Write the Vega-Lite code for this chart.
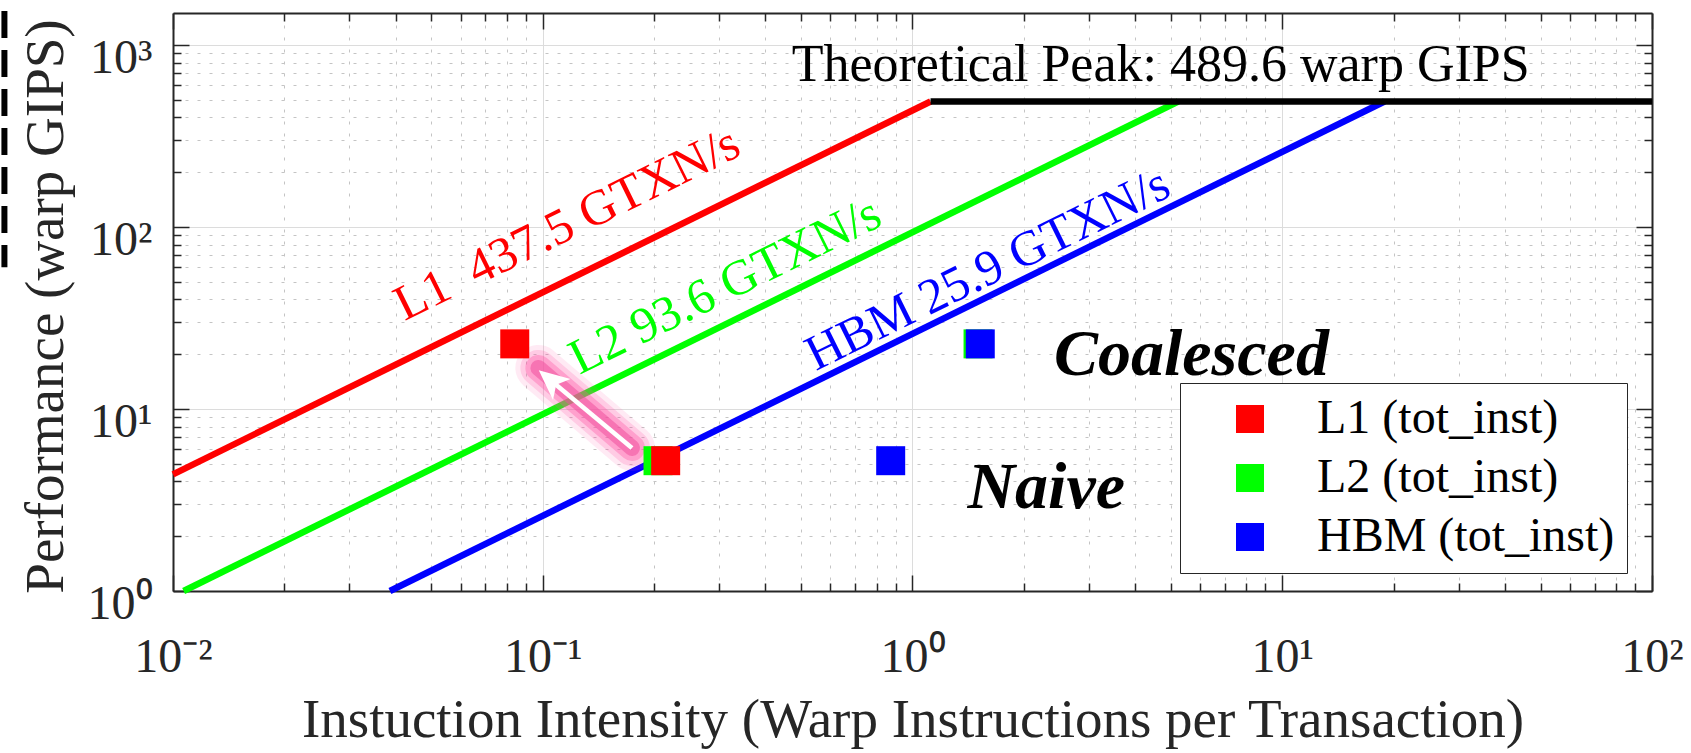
{
  "$schema": "https://vega.github.io/schema/vega-lite/v6.json",
  "width": 1479,
  "height": 578,
  "autosize": {"type": "none"},
  "padding": {"left": 173, "top": 13, "right": 39, "bottom": 162},
  "background": "#ffffff",
  "config": {
    "view": {"stroke": null},
    "font": "Liberation Serif",
    "axis": {
      "labelFont": "Liberation Serif",
      "titleFont": "Liberation Serif",
      "titleFontWeight": "normal",
      "labelColor": "#262626",
      "titleColor": "#262626",
      "tickColor": "#262626",
      "domainColor": "#262626",
      "labelFlush": false,
      "labelOverlap": false,
      "labelBound": false
    },
    "legend": {"labelFont": "Liberation Serif"}
  },
  "datasets": {
    "roofs": [
      {"roof": "L1", "x": 0.01, "y": 4.375},
      {"roof": "L1", "x": 1.1191, "y": 489.6},
      {"roof": "L2", "x": 0.010684, "y": 1},
      {"roof": "L2", "x": 5.2308, "y": 489.6},
      {"roof": "HBM", "x": 0.03861, "y": 1},
      {"roof": "HBM", "x": 18.903, "y": 489.6},
      {"roof": "Peak", "x": 1.1191, "y": 489.6},
      {"roof": "Peak", "x": 100, "y": 489.6}
    ],
    "roofLabels": [
      {"roof": "L1", "t": "L1\u00a0\u00a0437.5 GTXN/s", "x": 0.1165, "y": 103.5},
      {"roof": "L2", "t": "L2 93.6 GTXN/s", "x": 0.3117, "y": 47.3},
      {"roof": "HBM", "t": "HBM 25.9 GTXN/s", "x": 1.598, "y": 58.3}
    ],
    "pts": [
      {"series": "L2 (tot_inst)", "case": "Naive", "x": 0.205, "y": 5.2},
      {"series": "L2 (tot_inst)", "case": "Coalesced", "x": 1.504, "y": 22.8},
      {"series": "L1 (tot_inst)", "case": "Naive", "x": 0.215, "y": 5.2},
      {"series": "L1 (tot_inst)", "case": "Coalesced", "x": 0.084, "y": 22.8},
      {"series": "HBM (tot_inst)", "case": "Naive", "x": 0.873, "y": 5.2},
      {"series": "HBM (tot_inst)", "case": "Coalesced", "x": 1.525, "y": 22.8}
    ],
    "arrowGlow": [
      {"x": 0.1743, "y": 6.11},
      {"x": 0.0973, "y": 16.82}
    ],
    "arrowShaft": [
      {"x": 0.1743, "y": 6.11},
      {"x": 0.1064, "y": 14.09}
    ],
    "arrowHead": [
      {"x": 0.1064, "y": 14.09}
    ]
  },
  "layer": [
    {
      "data": {"values": [{"x": 0.0035, "y": 1539, "y2": 60.1}]},
      "mark": {"type": "rule", "color": "#000000", "strokeWidth": 6, "strokeDash": [27, 12]},
      "encoding": {
        "x": {"field": "x", "type": "quantitative", "scale": {"type": "log", "domain": [0.01, 100], "nice": false}, "axis": null},
        "y": {"field": "y", "type": "quantitative", "scale": {"type": "log", "domain": [1, 1500], "nice": false}, "axis": null},
        "y2": {"field": "y2"}
      }
    },
    {
      "data": {"name": "roofs"},
      "transform": [{"filter": "datum.roof === 'L1'"}],
      "mark": {"type": "line", "color": "#ff0000", "strokeWidth": 6.5},
      "encoding": {
        "x": {"field": "x", "type": "quantitative", "scale": {"type": "log", "domain": [0.01, 100], "nice": false},
          "axis": {"orient": "bottom", "values": [0.01, 0.1, 1, 10, 100],
            "labelExpr": "['10⁻²','10⁻¹','10⁰','10¹','10²'][round(log(datum.value)/LN10)+2]",
            "labelFontSize": 48, "labelBaseline": "alphabetic", "labelPadding": 96,
            "tickSize": -16, "tickWidth": 1.5, "domain": true, "domainWidth": 2,
            "grid": true, "gridColor": "#dcdcdc", "gridWidth": 1,
            "title": "Instuction Intensity (Warp Instructions per Transaction)",
            "titleFontSize": 55, "titleBaseline": "alphabetic", "titleY": 145}},
        "y": {"field": "y", "type": "quantitative", "scale": {"type": "log", "domain": [1, 1500], "nice": false},
          "axis": {"orient": "left", "values": [1, 10, 100, 1000],
            "labelExpr": "['10⁰','10¹','10²','10³'][round(log(datum.value)/LN10)]",
            "labelFontSize": 48, "labelBaseline": "alphabetic", "labelOffset": 27, "labelAlign": "right", "labelPadding": 37,
            "tickSize": -16, "tickWidth": 1.5, "domain": true, "domainWidth": 2,
            "grid": true, "gridColor": "#dcdcdc", "gridWidth": 1,
            "title": "Performance (warp GIPS)",
            "titleFontSize": 55, "titleBaseline": "alphabetic", "titleAngle": -90, "titleX": -111, "titleY": 293}}
      }
    },
    {
      "data": {"name": "roofs"},
      "transform": [{"filter": "datum.roof === 'L2'"}],
      "mark": {"type": "line", "color": "#00ff00", "strokeWidth": 6.5},
      "encoding": {
        "x": {"field": "x", "type": "quantitative", "scale": {"type": "log", "domain": [0.01, 100], "nice": false},
          "axis": {"orient": "bottom", "values": [0.02,0.03,0.04,0.05,0.06,0.07,0.08,0.09,0.2,0.3,0.4,0.5,0.6,0.7,0.8,0.9,2,3,4,5,6,7,8,9,20,30,40,50,60,70,80,90],
            "labels": false, "tickSize": -8, "tickWidth": 1.5, "domain": false,
            "grid": true, "gridColor": "#c4c4c4", "gridDash": [3, 9], "gridWidth": 1, "title": null}},
        "y": {"field": "y", "type": "quantitative", "scale": {"type": "log", "domain": [1, 1500], "nice": false},
          "axis": {"orient": "left", "values": [2,3,4,5,6,7,8,9,20,30,40,50,60,70,80,90,200,300,400,500,600,700,800,900],
            "labels": false, "tickSize": -8, "tickWidth": 1.5, "domain": false,
            "grid": true, "gridColor": "#c4c4c4", "gridDash": [3, 9], "gridWidth": 1, "title": null}}
      }
    },
    {
      "data": {"name": "roofs"},
      "transform": [{"filter": "datum.roof === 'HBM'"}],
      "mark": {"type": "line", "color": "#0000ff", "strokeWidth": 6.5},
      "encoding": {
        "x": {"field": "x", "type": "quantitative", "scale": {"type": "log", "domain": [0.01, 100], "nice": false},
          "axis": {"orient": "top", "values": [0.01, 0.1, 1, 10, 100], "labels": false,
            "tickSize": -16, "tickWidth": 1.5, "domain": true, "domainWidth": 2, "grid": false, "title": null}},
        "y": {"field": "y", "type": "quantitative", "scale": {"type": "log", "domain": [1, 1500], "nice": false},
          "axis": {"orient": "right", "values": [1, 10, 100, 1000], "labels": false,
            "tickSize": -16, "tickWidth": 1.5, "domain": true, "domainWidth": 2, "grid": false, "title": null}}
      }
    },
    {
      "data": {"name": "roofs"},
      "transform": [{"filter": "datum.roof === 'Peak'"}],
      "mark": {"type": "line", "color": "#000000", "strokeWidth": 6.5},
      "encoding": {
        "x": {"field": "x", "type": "quantitative", "scale": {"type": "log", "domain": [0.01, 100], "nice": false},
          "axis": {"orient": "top", "values": [0.02,0.03,0.04,0.05,0.06,0.07,0.08,0.09,0.2,0.3,0.4,0.5,0.6,0.7,0.8,0.9,2,3,4,5,6,7,8,9,20,30,40,50,60,70,80,90],
            "labels": false, "tickSize": -8, "tickWidth": 1.5, "domain": false, "grid": false, "title": null}},
        "y": {"field": "y", "type": "quantitative", "scale": {"type": "log", "domain": [1, 1500], "nice": false},
          "axis": {"orient": "right", "values": [2,3,4,5,6,7,8,9,20,30,40,50,60,70,80,90,200,300,400,500,600,700,800,900],
            "labels": false, "tickSize": -8, "tickWidth": 1.5, "domain": false, "grid": false, "title": null}}
      }
    },
    {
      "data": {"name": "roofLabels"},
      "transform": [{"filter": "datum.roof === 'L1'"}],
      "mark": {"type": "text", "angle": 333.73, "fontSize": 50, "color": "#ff0000", "align": "center", "baseline": "middle"},
      "encoding": {
        "x": {"field": "x", "type": "quantitative", "scale": {"type": "log", "domain": [0.01, 100], "nice": false}, "axis": null},
        "y": {"field": "y", "type": "quantitative", "scale": {"type": "log", "domain": [1, 1500], "nice": false}, "axis": null},
        "text": {"field": "t"}
      }
    },
    {
      "data": {"name": "roofLabels"},
      "transform": [{"filter": "datum.roof === 'L2'"}],
      "mark": {"type": "text", "angle": 333.73, "fontSize": 50, "color": "#00ff00", "align": "center", "baseline": "middle"},
      "encoding": {
        "x": {"field": "x", "type": "quantitative", "scale": {"type": "log", "domain": [0.01, 100], "nice": false}, "axis": null},
        "y": {"field": "y", "type": "quantitative", "scale": {"type": "log", "domain": [1, 1500], "nice": false}, "axis": null},
        "text": {"field": "t"}
      }
    },
    {
      "data": {"name": "roofLabels"},
      "transform": [{"filter": "datum.roof === 'HBM'"}],
      "mark": {"type": "text", "angle": 333.73, "fontSize": 50, "color": "#0000ff", "align": "center", "baseline": "middle"},
      "encoding": {
        "x": {"field": "x", "type": "quantitative", "scale": {"type": "log", "domain": [0.01, 100], "nice": false}, "axis": null},
        "y": {"field": "y", "type": "quantitative", "scale": {"type": "log", "domain": [1, 1500], "nice": false}, "axis": null},
        "text": {"field": "t"}
      }
    },
    {
      "data": {"values": [{"t": "Theoretical Peak: 489.6 warp GIPS", "x": 4.69, "y": 637}]},
      "mark": {"type": "text", "fontSize": 52, "color": "#000000", "align": "center", "baseline": "alphabetic"},
      "encoding": {
        "x": {"field": "x", "type": "quantitative", "scale": {"type": "log", "domain": [0.01, 100], "nice": false}, "axis": null},
        "y": {"field": "y", "type": "quantitative", "scale": {"type": "log", "domain": [1, 1500], "nice": false}, "axis": null},
        "text": {"field": "t"}
      }
    },
    {
      "data": {"values": [{"t": "Coalesced", "x": 5.68, "y": 15.4}, {"t": "Naive", "x": 2.3, "y": 2.875}]},
      "mark": {"type": "text", "fontSize": 66, "fontStyle": "italic", "fontWeight": "bold", "color": "#000000", "align": "center", "baseline": "alphabetic"},
      "encoding": {
        "x": {"field": "x", "type": "quantitative", "scale": {"type": "log", "domain": [0.01, 100], "nice": false}, "axis": null},
        "y": {"field": "y", "type": "quantitative", "scale": {"type": "log", "domain": [1, 1500], "nice": false}, "axis": null},
        "text": {"field": "t"}
      }
    },
    {
      "data": {"name": "arrowGlow"},
      "mark": {"type": "line", "color": "#ff4fa3", "strokeWidth": 46, "opacity": 0.12, "strokeCap": "round"},
      "encoding": {
        "x": {"field": "x", "type": "quantitative", "scale": {"type": "log", "domain": [0.01, 100], "nice": false}, "axis": null},
        "y": {"field": "y", "type": "quantitative", "scale": {"type": "log", "domain": [1, 1500], "nice": false}, "axis": null}
      }
    },
    {
      "data": {"name": "arrowGlow"},
      "mark": {"type": "line", "color": "#ff4fa3", "strokeWidth": 36, "opacity": 0.2, "strokeCap": "round"},
      "encoding": {
        "x": {"field": "x", "type": "quantitative", "scale": {"type": "log", "domain": [0.01, 100], "nice": false}, "axis": null},
        "y": {"field": "y", "type": "quantitative", "scale": {"type": "log", "domain": [1, 1500], "nice": false}, "axis": null}
      }
    },
    {
      "data": {"name": "arrowGlow"},
      "mark": {"type": "line", "color": "#ff4fa3", "strokeWidth": 26, "opacity": 0.35, "strokeCap": "round"},
      "encoding": {
        "x": {"field": "x", "type": "quantitative", "scale": {"type": "log", "domain": [0.01, 100], "nice": false}, "axis": null},
        "y": {"field": "y", "type": "quantitative", "scale": {"type": "log", "domain": [1, 1500], "nice": false}, "axis": null}
      }
    },
    {
      "data": {"name": "arrowGlow"},
      "mark": {"type": "line", "color": "#f0509e", "strokeWidth": 16, "opacity": 0.55, "strokeCap": "round"},
      "encoding": {
        "x": {"field": "x", "type": "quantitative", "scale": {"type": "log", "domain": [0.01, 100], "nice": false}, "axis": null},
        "y": {"field": "y", "type": "quantitative", "scale": {"type": "log", "domain": [1, 1500], "nice": false}, "axis": null}
      }
    },
    {
      "data": {"name": "arrowShaft"},
      "mark": {"type": "line", "color": "#ffffff", "strokeWidth": 4.5},
      "encoding": {
        "x": {"field": "x", "type": "quantitative", "scale": {"type": "log", "domain": [0.01, 100], "nice": false}, "axis": null},
        "y": {"field": "y", "type": "quantitative", "scale": {"type": "log", "domain": [1, 1500], "nice": false}, "axis": null}
      }
    },
    {
      "data": {"name": "arrowHead"},
      "mark": {"type": "point", "shape": "M0,-1L0.75,0.65L0,0.25L-0.75,0.65Z", "size": 1323, "angle": 310, "filled": true, "color": "#ffffff", "opacity": 1, "strokeWidth": 0},
      "encoding": {
        "x": {"field": "x", "type": "quantitative", "scale": {"type": "log", "domain": [0.01, 100], "nice": false}, "axis": null},
        "y": {"field": "y", "type": "quantitative", "scale": {"type": "log", "domain": [1, 1500], "nice": false}, "axis": null}
      }
    },
    {
      "data": {"name": "pts"},
      "mark": {"type": "square", "size": 841, "opacity": 1, "filled": true},
      "encoding": {
        "x": {"field": "x", "type": "quantitative", "scale": {"type": "log", "domain": [0.01, 100], "nice": false}, "axis": null},
        "y": {"field": "y", "type": "quantitative", "scale": {"type": "log", "domain": [1, 1500], "nice": false}, "axis": null},
        "color": {"field": "series", "type": "nominal",
          "scale": {"domain": ["L1 (tot_inst)", "L2 (tot_inst)", "HBM (tot_inst)"], "range": ["#ff0000", "#00ff00", "#0000ff"]},
          "legend": {"title": null, "orient": "none", "legendX": 1007, "legendY": 370, "direction": "vertical",
            "symbolType": "square", "symbolSize": 784, "symbolStrokeWidth": 0, "symbolOpacity": 1,
            "labelFontSize": 48, "labelColor": "#000000", "labelOffset": 43, "symbolOffset": 34,
            "padding": 12, "rowPadding": 11, "strokeColor": "#262626", "fillColor": "#ffffff", "labelLimit": 0}}
      }
    }
  ],
  "resolve": {"axis": {"x": "independent", "y": "independent"}}
}
